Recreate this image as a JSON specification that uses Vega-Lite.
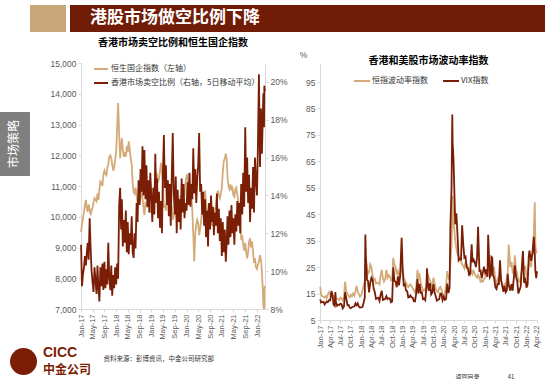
{
  "$schema": "https://vega.github.io/schema/vega-lite/v6.json",
  "background": "white",
  "padding": {"left": 0, "top": 5, "right": 0, "bottom": 0},
  "bounds": "flush",
  "spacing": 58,
  "resolve": {"scale": {"color": "independent"}, "legend": {"color": "independent"}},
  "config": {
    "view": {"stroke": null},
    "axis": {"labelFont": "Liberation Sans", "titleFont": "Noto Sans CJK SC"},
    "legend": {"labelFont": "Noto Sans CJK SC"},
    "title": {"font": "Noto Sans CJK SC"}
  },
  "datasets": {
    "hk": [
      {"d":"2017-01-02","h":9500,"s":11.4},{"d":"2017-01-11","h":9750,"s":9.2},{"d":"2017-01-21","h":9950,"s":9.8},
      {"d":"2017-02-01","h":10150,"s":10.2},{"d":"2017-02-11","h":10400,"s":10.8},{"d":"2017-02-21","h":10550,"s":10.3},
      {"d":"2017-03-01","h":10300,"s":10.9},{"d":"2017-03-11","h":10150,"s":11.5},{"d":"2017-03-21","h":10400,"s":10.6},
      {"d":"2017-04-01","h":10250,"s":12.8},{"d":"2017-04-11","h":10050,"s":11.2},{"d":"2017-04-21","h":10200,"s":10.0},
      {"d":"2017-05-01","h":10300,"s":9.4},{"d":"2017-05-11","h":10450,"s":8.9},{"d":"2017-05-21","h":10600,"s":10.2},
      {"d":"2017-06-01","h":10550,"s":9.5},{"d":"2017-06-11","h":10500,"s":8.8},{"d":"2017-06-21","h":10750,"s":10.3},
      {"d":"2017-07-01","h":10550,"s":9.1},{"d":"2017-07-11","h":10900,"s":8.4},{"d":"2017-07-21","h":11150,"s":10.2},
      {"d":"2017-08-01","h":11100,"s":9.2},{"d":"2017-08-11","h":11000,"s":10.4},{"d":"2017-08-21","h":11350,"s":9.0},
      {"d":"2017-09-01","h":11500,"s":10.5},{"d":"2017-09-11","h":11400,"s":9.1},{"d":"2017-09-21","h":11350,"s":10.1},
      {"d":"2017-10-01","h":11600,"s":9.3},{"d":"2017-10-11","h":11700,"s":11.5},{"d":"2017-10-21","h":11950,"s":9.7},
      {"d":"2017-11-01","h":12000,"s":9.0},{"d":"2017-11-11","h":11900,"s":10.3},{"d":"2017-11-21","h":11700,"s":8.7},
      {"d":"2017-12-01","h":11500,"s":9.8},{"d":"2017-12-11","h":11600,"s":9.1},{"d":"2017-12-21","h":11850,"s":10.2},
      {"d":"2018-01-01","h":12100,"s":9.3},{"d":"2018-01-11","h":12900,"s":10.4},{"d":"2018-01-21","h":13700,"s":9.6},
      {"d":"2018-02-01","h":12700,"s":13.5},{"d":"2018-02-11","h":11900,"s":14.4},{"d":"2018-02-21","h":12300,"s":12.2},
      {"d":"2018-03-01","h":12550,"s":13.8},{"d":"2018-03-11","h":12200,"s":11.3},{"d":"2018-03-21","h":11950,"s":12.7},
      {"d":"2018-04-01","h":12100,"s":11.5},{"d":"2018-04-11","h":11950,"s":13.2},{"d":"2018-04-21","h":12300,"s":11.0},
      {"d":"2018-05-01","h":12100,"s":12.6},{"d":"2018-05-11","h":12450,"s":10.9},{"d":"2018-05-21","h":12200,"s":12.0},
      {"d":"2018-06-01","h":11900,"s":11.4},{"d":"2018-06-11","h":11700,"s":12.9},{"d":"2018-06-21","h":11100,"s":11.0},
      {"d":"2018-07-01","h":10800,"s":10.7},{"d":"2018-07-11","h":10750,"s":12.0},{"d":"2018-07-21","h":10950,"s":11.2},
      {"d":"2018-08-01","h":10700,"s":13.6},{"d":"2018-08-11","h":10400,"s":12.6},{"d":"2018-08-21","h":10550,"s":14.8},
      {"d":"2018-09-01","h":10450,"s":13.5},{"d":"2018-09-11","h":10650,"s":15.4},{"d":"2018-09-21","h":10900,"s":14.2},
      {"d":"2018-10-01","h":10600,"s":16.6},{"d":"2018-10-11","h":10300,"s":14.0},{"d":"2018-10-21","h":10050,"s":16.4},
      {"d":"2018-11-01","h":10450,"s":13.8},{"d":"2018-11-11","h":10400,"s":15.6},{"d":"2018-11-21","h":10300,"s":13.4},
      {"d":"2018-12-01","h":10650,"s":14.8},{"d":"2018-12-11","h":10350,"s":13.1},{"d":"2018-12-21","h":10150,"s":15.2},
      {"d":"2019-01-01","h":10150,"s":13.9},{"d":"2019-01-11","h":10500,"s":12.6},{"d":"2019-01-21","h":10700,"s":14.4},
      {"d":"2019-02-01","h":10800,"s":13.0},{"d":"2019-02-11","h":11200,"s":16.2},{"d":"2019-02-21","h":11450,"s":13.6},
      {"d":"2019-03-01","h":11350,"s":14.9},{"d":"2019-03-11","h":11100,"s":12.8},{"d":"2019-03-21","h":11250,"s":14.2},
      {"d":"2019-04-01","h":11500,"s":12.3},{"d":"2019-04-11","h":11750,"s":13.7},{"d":"2019-04-21","h":11400,"s":12.0},
      {"d":"2019-05-01","h":11100,"s":15.2},{"d":"2019-05-11","h":10300,"s":17.2},{"d":"2019-05-21","h":10400,"s":14.4},
      {"d":"2019-06-01","h":10200,"s":15.6},{"d":"2019-06-11","h":10550,"s":13.5},{"d":"2019-06-21","h":10800,"s":14.8},
      {"d":"2019-07-01","h":10700,"s":12.9},{"d":"2019-07-11","h":10800,"s":14.6},{"d":"2019-07-21","h":10500,"s":12.4},
      {"d":"2019-08-01","h":10300,"s":15.1},{"d":"2019-08-11","h":9900,"s":17.3},{"d":"2019-08-21","h":10000,"s":14.2},
      {"d":"2019-09-01","h":10200,"s":13.0},{"d":"2019-09-11","h":10500,"s":15.0},{"d":"2019-09-21","h":10300,"s":12.0},
      {"d":"2019-10-01","h":10100,"s":14.3},{"d":"2019-10-11","h":10300,"s":12.6},{"d":"2019-10-21","h":10500,"s":13.8},
      {"d":"2019-11-01","h":10700,"s":12.2},{"d":"2019-11-11","h":10600,"s":14.9},{"d":"2019-11-21","h":10400,"s":13.1},
      {"d":"2019-12-01","h":10400,"s":14.6},{"d":"2019-12-11","h":10750,"s":12.8},{"d":"2019-12-21","h":11100,"s":13.6},
      {"d":"2020-01-01","h":11300,"s":13.2},{"d":"2020-01-11","h":11400,"s":14.7},{"d":"2020-01-21","h":10800,"s":13.5},
      {"d":"2020-02-01","h":10400,"s":15.2},{"d":"2020-02-11","h":10700,"s":13.4},{"d":"2020-02-21","h":10600,"s":14.6},
      {"d":"2020-03-01","h":10200,"s":13.8},{"d":"2020-03-11","h":9400,"s":16.5},{"d":"2020-03-21","h":8550,"s":14.1},
      {"d":"2020-04-01","h":9500,"s":15.4},{"d":"2020-04-11","h":9750,"s":13.6},{"d":"2020-04-21","h":9900,"s":14.9},
      {"d":"2020-05-01","h":9800,"s":15.6},{"d":"2020-05-11","h":9400,"s":17.3},{"d":"2020-05-21","h":9600,"s":14.2},
      {"d":"2020-06-01","h":9900,"s":14.6},{"d":"2020-06-11","h":10250,"s":13.0},{"d":"2020-06-21","h":10000,"s":14.2},
      {"d":"2020-07-01","h":10450,"s":12.4},{"d":"2020-07-11","h":10850,"s":13.8},{"d":"2020-07-21","h":10500,"s":11.8},
      {"d":"2020-08-01","h":10200,"s":13.2},{"d":"2020-08-11","h":10300,"s":11.3},{"d":"2020-08-21","h":10100,"s":13.6},
      {"d":"2020-09-01","h":10150,"s":12.2},{"d":"2020-09-11","h":10000,"s":14.0},{"d":"2020-09-21","h":9700,"s":12.6},
      {"d":"2020-10-01","h":9900,"s":13.4},{"d":"2020-10-11","h":10150,"s":11.9},{"d":"2020-10-21","h":10250,"s":13.1},
      {"d":"2020-11-01","h":10300,"s":12.4},{"d":"2020-11-11","h":10700,"s":14.1},{"d":"2020-11-21","h":10850,"s":12.0},
      {"d":"2020-12-01","h":10700,"s":13.3},{"d":"2020-12-11","h":10600,"s":11.6},{"d":"2020-12-21","h":10750,"s":12.8},
      {"d":"2021-01-01","h":10950,"s":10.8},{"d":"2021-01-11","h":11450,"s":12.6},{"d":"2021-01-21","h":11800,"s":11.0},
      {"d":"2021-02-01","h":11900,"s":12.2},{"d":"2021-02-11","h":12050,"s":10.5},{"d":"2021-02-21","h":11850,"s":11.6},
      {"d":"2021-03-01","h":11300,"s":12.9},{"d":"2021-03-11","h":11000,"s":11.4},{"d":"2021-03-21","h":10900,"s":13.2},
      {"d":"2021-04-01","h":11050,"s":11.8},{"d":"2021-04-11","h":10900,"s":13.5},{"d":"2021-04-21","h":10950,"s":12.0},
      {"d":"2021-05-01","h":10700,"s":12.8},{"d":"2021-05-11","h":10650,"s":11.4},{"d":"2021-05-21","h":10900,"s":13.0},
      {"d":"2021-06-01","h":10950,"s":12.1},{"d":"2021-06-11","h":10700,"s":13.7},{"d":"2021-06-21","h":10550,"s":12.4},
      {"d":"2021-07-01","h":10300,"s":13.6},{"d":"2021-07-11","h":9900,"s":12.0},{"d":"2021-07-21","h":9300,"s":14.6},
      {"d":"2021-08-01","h":9350,"s":13.0},{"d":"2021-08-11","h":9100,"s":15.2},{"d":"2021-08-21","h":8900,"s":13.4},
      {"d":"2021-09-01","h":9150,"s":17.6},{"d":"2021-09-11","h":8850,"s":14.2},{"d":"2021-09-21","h":8650,"s":16.0},
      {"d":"2021-10-01","h":8850,"s":13.6},{"d":"2021-10-11","h":9200,"s":15.1},{"d":"2021-10-21","h":9300,"s":12.6},
      {"d":"2021-11-01","h":9000,"s":14.4},{"d":"2021-11-11","h":9200,"s":13.3},{"d":"2021-11-21","h":8850,"s":15.5},
      {"d":"2021-12-01","h":8500,"s":13.1},{"d":"2021-12-11","h":8650,"s":16.0},{"d":"2021-12-21","h":8350,"s":14.8},
      {"d":"2022-01-01","h":8300,"s":14.0},{"d":"2022-01-11","h":8450,"s":16.8},{"d":"2022-01-21","h":8550,"s":20.4},
      {"d":"2022-02-01","h":8750,"s":15.5},{"d":"2022-02-11","h":8600,"s":18.6},{"d":"2022-02-21","h":8200,"s":16.2},
      {"d":"2022-03-01","h":7700,"s":17.9},{"d":"2022-03-08","h":7100,"s":19.4},{"d":"2022-03-15","h":7000,"s":17.6},
      {"d":"2022-03-18","h":7650,"s":19.8},{"d":"2022-03-24","h":7750,"s":19.5}
    ],
    "vol": [
      {"d":"2017-01-03","v":17.5,"x":12.8},{"d":"2017-01-11","v":14.5,"x":11.6},{"d":"2017-01-21","v":14.0,"x":11.8},
      {"d":"2017-02-01","v":13.8,"x":11.9},{"d":"2017-02-11","v":13.5,"x":10.9},{"d":"2017-02-21","v":14.0,"x":11.5},
      {"d":"2017-03-01","v":13.2,"x":12.0},{"d":"2017-03-11","v":14.5,"x":11.7},{"d":"2017-03-21","v":15.5,"x":12.5},
      {"d":"2017-04-01","v":14.8,"x":12.4},{"d":"2017-04-13","v":15.2,"x":16.0},{"d":"2017-04-21","v":14.6,"x":14.6},
      {"d":"2017-05-01","v":13.5,"x":10.8},{"d":"2017-05-11","v":12.8,"x":10.3},{"d":"2017-05-17","v":14.0,"x":15.6},
      {"d":"2017-05-21","v":13.5,"x":12.0},{"d":"2017-06-01","v":13.0,"x":10.4},{"d":"2017-06-11","v":12.8,"x":10.8},
      {"d":"2017-06-21","v":12.5,"x":10.7},{"d":"2017-07-01","v":13.5,"x":11.2},{"d":"2017-07-11","v":13.2,"x":10.9},
      {"d":"2017-07-21","v":12.4,"x":9.4},{"d":"2017-08-01","v":13.6,"x":10.1},{"d":"2017-08-11","v":19.5,"x":15.5},
      {"d":"2017-08-21","v":16.0,"x":13.4},{"d":"2017-09-01","v":15.0,"x":10.6},{"d":"2017-09-11","v":14.2,"x":10.7},
      {"d":"2017-09-21","v":13.6,"x":9.7},{"d":"2017-10-01","v":14.5,"x":9.5},{"d":"2017-10-11","v":14.0,"x":9.8},
      {"d":"2017-10-21","v":15.0,"x":10.0},{"d":"2017-11-01","v":14.2,"x":10.2},{"d":"2017-11-11","v":16.0,"x":11.3},
      {"d":"2017-11-21","v":18.0,"x":10.6},{"d":"2017-12-01","v":15.5,"x":11.3},{"d":"2017-12-11","v":14.8,"x":10.0},
      {"d":"2017-12-21","v":13.8,"x":9.7},{"d":"2018-01-01","v":14.5,"x":9.8},{"d":"2018-01-11","v":16.0,"x":9.9},
      {"d":"2018-01-21","v":18.0,"x":11.3},{"d":"2018-02-01","v":19.5,"x":13.5},{"d":"2018-02-06","v":26.0,"x":37.3},
      {"d":"2018-02-11","v":28.2,"x":29.0},{"d":"2018-02-21","v":24.0,"x":20.0},{"d":"2018-03-01","v":22.5,"x":19.8},
      {"d":"2018-03-11","v":23.0,"x":15.4},{"d":"2018-03-21","v":26.0,"x":19.0},{"d":"2018-04-01","v":25.0,"x":21.0},
      {"d":"2018-04-11","v":22.0,"x":20.2},{"d":"2018-04-21","v":20.0,"x":16.8},{"d":"2018-05-01","v":20.5,"x":15.5},
      {"d":"2018-05-11","v":18.8,"x":13.0},{"d":"2018-05-21","v":19.0,"x":13.2},{"d":"2018-06-01","v":19.0,"x":13.4},
      {"d":"2018-06-11","v":18.5,"x":12.2},{"d":"2018-06-21","v":22.0,"x":14.6},{"d":"2018-07-01","v":24.0,"x":16.1},
      {"d":"2018-07-11","v":20.8,"x":12.6},{"d":"2018-07-21","v":19.5,"x":12.8},{"d":"2018-08-01","v":20.5,"x":13.0},
      {"d":"2018-08-11","v":24.0,"x":14.0},{"d":"2018-08-21","v":21.0,"x":12.9},{"d":"2018-09-01","v":22.0,"x":13.2},
      {"d":"2018-09-11","v":21.5,"x":13.2},{"d":"2018-09-21","v":20.0,"x":11.7},{"d":"2018-10-01","v":20.5,"x":12.0},
      {"d":"2018-10-11","v":28.5,"x":24.9},{"d":"2018-10-21","v":26.0,"x":19.9},{"d":"2018-11-01","v":25.0,"x":19.3},
      {"d":"2018-11-11","v":22.0,"x":17.4},{"d":"2018-11-21","v":23.5,"x":21.5},{"d":"2018-12-01","v":22.0,"x":18.1},
      {"d":"2018-12-11","v":21.5,"x":21.8},{"d":"2018-12-24","v":25.0,"x":36.1},{"d":"2019-01-01","v":23.5,"x":25.4},
      {"d":"2019-01-11","v":21.0,"x":18.2},{"d":"2019-01-21","v":20.0,"x":18.6},{"d":"2019-02-01","v":19.0,"x":16.1},
      {"d":"2019-02-11","v":18.0,"x":15.9},{"d":"2019-02-21","v":17.5,"x":13.5},{"d":"2019-03-01","v":18.0,"x":13.6},
      {"d":"2019-03-11","v":18.5,"x":14.3},{"d":"2019-03-21","v":18.0,"x":13.6},{"d":"2019-04-01","v":17.0,"x":13.4},
      {"d":"2019-04-11","v":16.2,"x":12.1},{"d":"2019-04-21","v":15.5,"x":12.0},{"d":"2019-05-01","v":17.0,"x":14.8},
      {"d":"2019-05-13","v":24.0,"x":20.5},{"d":"2019-05-21","v":21.0,"x":15.0},{"d":"2019-06-01","v":22.0,"x":18.7},
      {"d":"2019-06-11","v":19.0,"x":15.3},{"d":"2019-06-21","v":17.5,"x":15.4},{"d":"2019-07-01","v":16.0,"x":12.9},
      {"d":"2019-07-11","v":16.5,"x":13.1},{"d":"2019-07-21","v":16.0,"x":12.5},{"d":"2019-08-01","v":19.0,"x":17.9},
      {"d":"2019-08-05","v":23.0,"x":24.6},{"d":"2019-08-11","v":22.5,"x":20.0},{"d":"2019-08-21","v":21.0,"x":16.0},
      {"d":"2019-09-01","v":20.0,"x":18.9},{"d":"2019-09-11","v":18.5,"x":14.6},{"d":"2019-09-21","v":17.5,"x":15.3},
      {"d":"2019-10-01","v":21.0,"x":18.6},{"d":"2019-10-11","v":19.0,"x":15.6},{"d":"2019-10-21","v":17.0,"x":14.0},
      {"d":"2019-11-01","v":16.0,"x":12.3},{"d":"2019-11-11","v":15.5,"x":12.7},{"d":"2019-11-21","v":17.0,"x":12.8},
      {"d":"2019-12-01","v":17.5,"x":15.0},{"d":"2019-12-11","v":16.5,"x":14.9},{"d":"2019-12-21","v":14.5,"x":12.5},
      {"d":"2020-01-01","v":14.2,"x":13.8},{"d":"2020-01-11","v":15.5,"x":12.6},{"d":"2020-01-21","v":18.0,"x":12.9},
      {"d":"2020-01-31","v":23.5,"x":18.8},{"d":"2020-02-11","v":21.0,"x":15.2},{"d":"2020-02-21","v":20.0,"x":17.1},
      {"d":"2020-02-28","v":26.5,"x":40.1},{"d":"2020-03-09","v":33.0,"x":54.5},{"d":"2020-03-16","v":48.0,"x":82.7},
      {"d":"2020-03-19","v":52.0,"x":72.0},{"d":"2020-03-27","v":42.0,"x":65.5},{"d":"2020-04-01","v":40.0,"x":57.1},
      {"d":"2020-04-11","v":35.0,"x":41.2},{"d":"2020-04-21","v":32.0,"x":45.4},{"d":"2020-05-01","v":30.0,"x":37.2},
      {"d":"2020-05-11","v":29.0,"x":27.6},{"d":"2020-05-21","v":28.5,"x":28.2},{"d":"2020-06-01","v":27.0,"x":27.9},
      {"d":"2020-06-11","v":26.0,"x":40.8},{"d":"2020-06-21","v":25.5,"x":33.5},{"d":"2020-07-01","v":24.5,"x":28.6},
      {"d":"2020-07-11","v":27.0,"x":29.0},{"d":"2020-07-21","v":26.0,"x":24.8},{"d":"2020-08-01","v":25.0,"x":24.5},
      {"d":"2020-08-11","v":23.0,"x":22.1},{"d":"2020-08-21","v":22.0,"x":22.5},{"d":"2020-09-03","v":24.0,"x":33.6},
      {"d":"2020-09-11","v":22.5,"x":26.9},{"d":"2020-09-21","v":23.5,"x":27.8},{"d":"2020-10-01","v":22.5,"x":26.7},
      {"d":"2020-10-11","v":21.5,"x":25.0},{"d":"2020-10-21","v":21.0,"x":28.7},{"d":"2020-10-30","v":22.0,"x":40.3},
      {"d":"2020-11-11","v":21.0,"x":23.5},{"d":"2020-11-21","v":19.5,"x":23.7},{"d":"2020-12-01","v":20.0,"x":20.8},
      {"d":"2020-12-11","v":19.5,"x":22.9},{"d":"2020-12-21","v":20.5,"x":25.2},{"d":"2021-01-01","v":21.0,"x":22.8},
      {"d":"2021-01-11","v":22.0,"x":24.1},{"d":"2021-01-21","v":23.5,"x":21.3},{"d":"2021-01-27","v":25.0,"x":37.2},
      {"d":"2021-02-11","v":24.5,"x":21.2},{"d":"2021-02-21","v":24.0,"x":22.0},{"d":"2021-02-25","v":26.0,"x":28.9},
      {"d":"2021-03-04","v":25.5,"x":28.6},{"d":"2021-03-11","v":24.0,"x":21.9},{"d":"2021-03-21","v":24.5,"x":20.9},
      {"d":"2021-04-01","v":20.0,"x":17.3},{"d":"2021-04-11","v":19.0,"x":16.7},{"d":"2021-04-21","v":20.5,"x":18.7},
      {"d":"2021-05-01","v":19.5,"x":18.6},{"d":"2021-05-12","v":22.5,"x":27.6},{"d":"2021-05-21","v":20.0,"x":20.2},
      {"d":"2021-06-01","v":18.0,"x":17.9},{"d":"2021-06-11","v":17.5,"x":15.7},{"d":"2021-06-21","v":18.5,"x":17.9},
      {"d":"2021-07-01","v":18.0,"x":15.5},{"d":"2021-07-11","v":21.0,"x":16.2},{"d":"2021-07-19","v":23.0,"x":22.5},
      {"d":"2021-07-28","v":33.5,"x":18.3},{"d":"2021-08-11","v":25.0,"x":16.1},{"d":"2021-08-21","v":27.0,"x":18.6},
      {"d":"2021-09-01","v":23.0,"x":16.1},{"d":"2021-09-11","v":23.5,"x":20.9},{"d":"2021-09-20","v":29.5,"x":25.7},
      {"d":"2021-10-01","v":24.0,"x":21.1},{"d":"2021-10-11","v":22.5,"x":19.8},{"d":"2021-10-21","v":20.0,"x":15.0},
      {"d":"2021-11-01","v":19.5,"x":16.4},{"d":"2021-11-11","v":21.0,"x":17.7},{"d":"2021-11-26","v":25.0,"x":28.6},
      {"d":"2021-12-01","v":27.0,"x":31.1},{"d":"2021-12-11","v":24.0,"x":19.0},{"d":"2021-12-21","v":25.5,"x":21.0},
      {"d":"2022-01-01","v":21.5,"x":17.2},{"d":"2022-01-11","v":22.0,"x":18.4},{"d":"2022-01-21","v":26.0,"x":29.0},
      {"d":"2022-01-27","v":28.0,"x":31.2},{"d":"2022-02-11","v":25.0,"x":27.4},{"d":"2022-02-24","v":32.0,"x":30.3},
      {"d":"2022-03-01","v":31.0,"x":33.3},{"d":"2022-03-07","v":38.0,"x":36.5},{"d":"2022-03-15","v":49.5,"x":29.8},
      {"d":"2022-03-21","v":33.0,"x":23.5},{"d":"2022-03-28","v":30.5,"x":20.8},{"d":"2022-04-04","v":31.0,"x":23.5}
    ]
  },
  "vconcat": [
    {
      "bounds": "flush",
      "spacing": 4,
      "hconcat": [
        {"width": 26, "height": 27, "data": {"values": [{}]}, "mark": {"type": "text", "text": ""}},
        {"width": 36, "height": 27, "data": {"values": [{}]}, "mark": {"type": "text", "text": ""}, "view": {"fill": "#C9A57A", "stroke": null}},
        {
          "width": 475, "height": 27,
          "data": {"values": [{}]},
          "mark": {"type": "text", "text": ""},
          "view": {"fill": "#701C06", "stroke": null},
          "title": {"text": "港股市场做空比例下降", "anchor": "start", "frame": "group", "dx": 20, "offset": -22, "fontSize": 17, "fontWeight": "bold", "color": "white", "font": "Noto Sans CJK SC"}
        }
      ]
    },
    {
      "bounds": "flush",
      "spacing": 81,
      "resolve": {"scale": {"color": "independent"}, "legend": {"color": "independent"}},
      "hconcat": [
        {
          "bounds": "flush",
          "spacing": 1,
          "vconcat": [
            {"width": 1, "height": 48, "data": {"values": [{}]}, "mark": {"type": "text", "text": ""}},
            {
              "width": 30, "height": 64,
              "data": {"values": [{}]},
              "mark": {"type": "text", "text": ""},
              "view": {"fill": "#7F7F7F", "stroke": null},
              "title": {"text": "市场策略", "orient": "left", "anchor": "middle", "offset": -21, "fontSize": 12, "fontWeight": "normal", "color": "white", "font": "Noto Sans CJK SC"}
            },
            {"width": 1, "height": 170, "data": {"values": [{}]}, "mark": {"type": "text", "text": ""}},
            {
              "bounds": "flush",
              "spacing": 9,
              "hconcat": [
                {"width": 1, "height": 27, "data": {"values": [{}]}, "mark": {"type": "text", "text": ""}},
                {
                  "width": 27, "height": 27,
                  "data": {"values": [{}]},
                  "mark": {"type": "text", "text": ""},
                  "view": {"fill": "#7A1E05", "stroke": null, "cornerRadius": 13.5},
                  "title": {"text": "CICC", "subtitle": "中金公司", "anchor": "start", "frame": "group", "dx": 33, "offset": -28, "fontSize": 14, "fontWeight": "bold", "font": "Liberation Sans", "color": "#7A1E05", "subtitleFont": "Noto Sans CJK SC", "subtitleFontSize": 12, "subtitleFontWeight": "bold", "subtitleColor": "#7A1E05", "subtitlePadding": 5}
                }
              ]
            }
          ]
        },
        {
          "bounds": "flush",
          "spacing": 55,
          "resolve": {"scale": {"color": "independent"}, "legend": {"color": "independent"}},
          "hconcat": [
            {
              "width": 184, "height": 246,
              "data": {"name": "hk"},
              "title": {"text": "香港市场卖空比例和恒生国企指数", "fontSize": 10, "fontWeight": "bold", "font": "Noto Sans CJK SC", "color": "#000000", "offset": 11},
              "encoding": {
                "x": {
                  "field": "d", "type": "temporal",
                  "scale": {"domain": ["2017-01-01", "2022-03-25"], "nice": false},
                  "axis": {"tickCount": {"interval": "month", "step": 4}, "format": "%b-%y", "labelAngle": -90, "labelFontSize": 7.5, "labelColor": "#595959", "labelPadding": 2, "labelOverlap": false, "domainColor": "#d9d9d9", "tickColor": "#d9d9d9", "tickSize": 3, "grid": false,
                           "title": "资料来源：彭博资讯，中金公司研究部", "titleFontSize": 6.5, "titleFontWeight": "normal", "titleColor": "#333333", "titleAlign": "left", "titleX": 22, "titleY": 49, "titleBaseline": "middle"}
                }
              },
              "layer": [
                {
                  "mark": {"type": "line", "strokeWidth": 1.8},
                  "encoding": {
                    "y": {"field": "h", "type": "quantitative", "scale": {"domain": [7000, 15000], "nice": false, "zero": false},
                          "axis": {"values": [7000, 8000, 9000, 10000, 11000, 12000, 13000, 14000, 15000], "labelExpr": "format(datum.value, ',')", "labelOverlap": false, "labelFontSize": 8.5, "labelColor": "#595959", "domainColor": "#d9d9d9", "tickColor": "#d9d9d9", "tickSize": 3, "grid": false, "title": null}},
                    "color": {"datum": "恒生国企指数（左轴）", "type": "nominal",
                              "scale": {"domain": ["恒生国企指数（左轴）", "香港市场卖空比例（右轴，5日移动平均）"], "range": ["#D4AA78", "#7A1E05"]},
                              "legend": {"orient": "none", "legendX": 12, "legendY": -2, "title": null, "symbolType": "stroke", "symbolStrokeWidth": 2, "symbolSize": 196, "labelFontSize": 8, "labelColor": "#333333", "labelOffset": 2, "rowPadding": 2, "padding": 0}}
                  }
                },
                {
                  "mark": {"type": "line", "strokeWidth": 1.8},
                  "encoding": {
                    "y": {"field": "s", "type": "quantitative", "scale": {"domain": [8, 21], "nice": false, "zero": false},
                          "axis": {"orient": "right", "values": [8, 10, 12, 14, 16, 18, 20], "labelExpr": "datum.value + '%'", "labelOverlap": false, "labelFontSize": 8.5, "labelColor": "#595959", "domainColor": "#d9d9d9", "tickColor": "#d9d9d9", "tickSize": 3, "grid": false, "title": null}},
                    "color": {"datum": "香港市场卖空比例（右轴，5日移动平均）", "type": "nominal"}
                  }
                }
              ],
              "resolve": {"scale": {"y": "independent"}}
            },
            {
              "width": 217, "height": 257,
              "data": {"name": "vol"},
              "transform": [{"fold": ["v", "x"], "as": ["k", "val"]}],
              "title": {"text": "香港和美股市场波动率指数", "fontSize": 10, "fontWeight": "bold", "font": "Noto Sans CJK SC", "color": "#000000", "offset": -16},
              "mark": {"type": "line", "strokeWidth": 1.8},
              "encoding": {
                "x": {
                  "field": "d", "type": "temporal",
                  "scale": {"domain": ["2017-01-01", "2022-04-04"], "nice": false},
                  "axis": {"tickCount": {"interval": "month", "step": 3}, "format": "%b-%y", "labelAngle": -90, "labelFontSize": 7.5, "labelColor": "#595959", "labelPadding": 2, "labelOverlap": false, "domainColor": "#d9d9d9", "tickColor": "#d9d9d9", "tickSize": 3, "grid": false,
                           "title": "返回目录\u00a0\u00a0\u00a0\u00a0\u00a0\u00a0\u00a0\u00a0\u00a0\u00a0\u00a0\u00a0\u00a0\u00a0\u00a0\u00a0\u00a0\u00a0\u00a0\u00a0\u00a041", "titleFontSize": 6, "titleFontWeight": "normal", "titleColor": "#333333", "titleAlign": "left", "titleX": 135, "titleY": 56, "titleBaseline": "middle"}
                },
                "y": {"field": "val", "type": "quantitative", "scale": {"domain": [5, 102.2], "nice": false, "zero": false},
                      "axis": {"values": [5, 15, 25, 35, 45, 55, 65, 75, 85, 95], "labelOverlap": false, "labelFontSize": 8.5, "labelColor": "#595959", "domainColor": "#d9d9d9", "tickColor": "#d9d9d9", "tickSize": 3, "grid": false,
                               "title": "%", "titleAngle": 0, "titleX": -17, "titleY": -9, "titleFont": "Liberation Sans", "titleFontSize": 8.5, "titleFontWeight": "normal", "titleColor": "#595959", "titleAlign": "center", "titleBaseline": "middle"}},
                "color": {"field": "k", "type": "nominal",
                          "scale": {"domain": ["v", "x"], "range": ["#D4AA78", "#7A1E05"]},
                          "legend": {"orient": "none", "direction": "horizontal", "legendX": 33, "legendY": 9, "title": null, "symbolType": "stroke", "symbolStrokeWidth": 2, "symbolSize": 256, "labelFontSize": 8, "labelColor": "#333333", "labelOffset": 1, "columnPadding": 11, "padding": 0,
                                     "labelExpr": "datum.label == 'v' ? '恒指波动率指数' : 'VIX指数'"}}
              }
            }
          ]
        }
      ]
    }
  ]
}
